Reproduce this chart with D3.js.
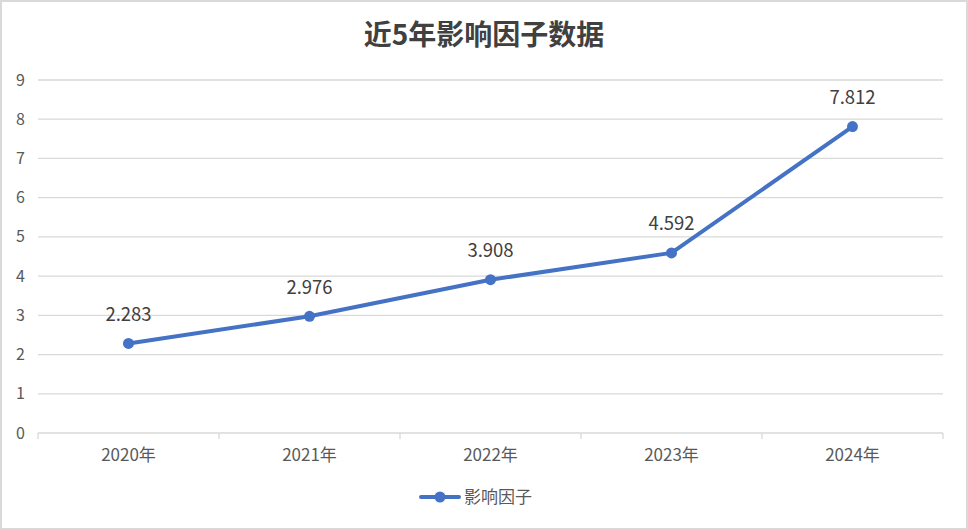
<!DOCTYPE html>
<html><head><meta charset="utf-8">
<script src="https://cdn.jsdelivr.net/npm/d3@7"></script>
<style>
html,body{margin:0;padding:0;background:#fff;}
svg{display:block;}
</style></head>
<body>
<svg id="c" width="968" height="530"></svg>
<script>
const categories = ["2020年","2021年","2022年","2023年","2024年"];
const values = [2.283, 2.976, 3.908, 4.592, 7.812];
const valueLabels = ["2.283","2.976","3.908","4.592","7.812"];
const yTicks = [0,1,2,3,4,5,6,7,8,9];
const seriesName = "影响因子";
const title = "近5年影响因子数据";

const svg = d3.select("#c");
const W = 968, H = 530;
const font = "'Noto Sans CJK SC','Microsoft YaHei',sans-serif";
svg.append("rect").attr("x",1).attr("y",1).attr("width",W-2).attr("height",H-2)
  .attr("fill","#fff").attr("stroke","#d9d9d9").attr("stroke-width",2);

const m = {l:38, r:943, t:80, b:433};
const x = d3.scaleBand().domain(categories).range([m.l, m.r]).padding(0);
const y = d3.scaleLinear().domain([0,9]).range([m.b, m.t]);

// gridlines
svg.append("g").selectAll("line").data(yTicks.filter(d=>d>0)).join("line")
  .attr("x1",m.l).attr("x2",m.r).attr("y1",d=>y(d)).attr("y2",d=>y(d))
  .attr("stroke","#d9d9d9").attr("stroke-width",1.3);

// y labels
svg.append("g").selectAll("text").data(yTicks).join("text")
  .attr("x",25).attr("y",d=>y(d)).attr("dy","0.35em").attr("text-anchor","end")
  .attr("font-family",font).attr("font-size",16).attr("fill","#595959").text(d=>d);

// x axis
const gx = svg.append("g").attr("transform",`translate(0,${m.b})`);
gx.append("line").attr("x1",m.l).attr("x2",m.r).attr("y1",0).attr("y2",0)
  .attr("stroke","#d9d9d9").attr("stroke-width",1.3);
const bounds = categories.map(c=>x(c)).concat([m.r]);
gx.selectAll("line.tk").data(bounds).join("line").attr("class","tk")
  .attr("x1",d=>d).attr("x2",d=>d).attr("y1",0).attr("y2",6)
  .attr("stroke","#d9d9d9").attr("stroke-width",1.3);
gx.selectAll("text").data(categories).join("text")
  .attr("x",d=>x(d)+x.bandwidth()/2).attr("y",22).attr("dy","0.35em").attr("text-anchor","middle")
  .attr("font-family",font).attr("font-size",17).attr("fill","#595959").text(d=>d);

// line
const pts = categories.map((c,i)=>({c, v:values[i], l:valueLabels[i]}));
const line = d3.line().x(d=>x(d.c)+x.bandwidth()/2).y(d=>y(d.v));
svg.append("path").datum(pts).attr("d",line).attr("fill","none")
  .attr("stroke","#4472C4").attr("stroke-width",4).attr("stroke-linejoin","round").attr("stroke-linecap","round");
svg.append("g").selectAll("circle").data(pts).join("circle")
  .attr("cx",d=>x(d.c)+x.bandwidth()/2).attr("cy",d=>y(d.v)).attr("r",5.5).attr("fill","#4472C4");
svg.append("g").selectAll("text").data(pts).join("text")
  .attr("x",d=>x(d.c)+x.bandwidth()/2).attr("y",d=>y(d.v)-29).attr("dy","0.35em").attr("text-anchor","middle")
  .attr("font-family",font).attr("font-size",18.5).attr("fill","#404040").text(d=>d.l);

// title
svg.append("text").attr("x",484).attr("y",35).attr("dy","0.35em").attr("text-anchor","middle")
  .attr("font-family",font).attr("font-size",28).attr("font-weight","bold").attr("fill","#404040").text(title);

// legend
const lg = svg.append("g");
lg.append("line").attr("x1",421).attr("x2",459).attr("y1",497).attr("y2",497)
  .attr("stroke","#4472C4").attr("stroke-width",4).attr("stroke-linecap","round");
lg.append("circle").attr("cx",440).attr("cy",497).attr("r",5.5).attr("fill","#4472C4");
lg.append("text").attr("x",464).attr("y",497).attr("dy","0.35em")
  .attr("font-family",font).attr("font-size",17).attr("fill","#595959").text(seriesName);
</script>
</body></html>
